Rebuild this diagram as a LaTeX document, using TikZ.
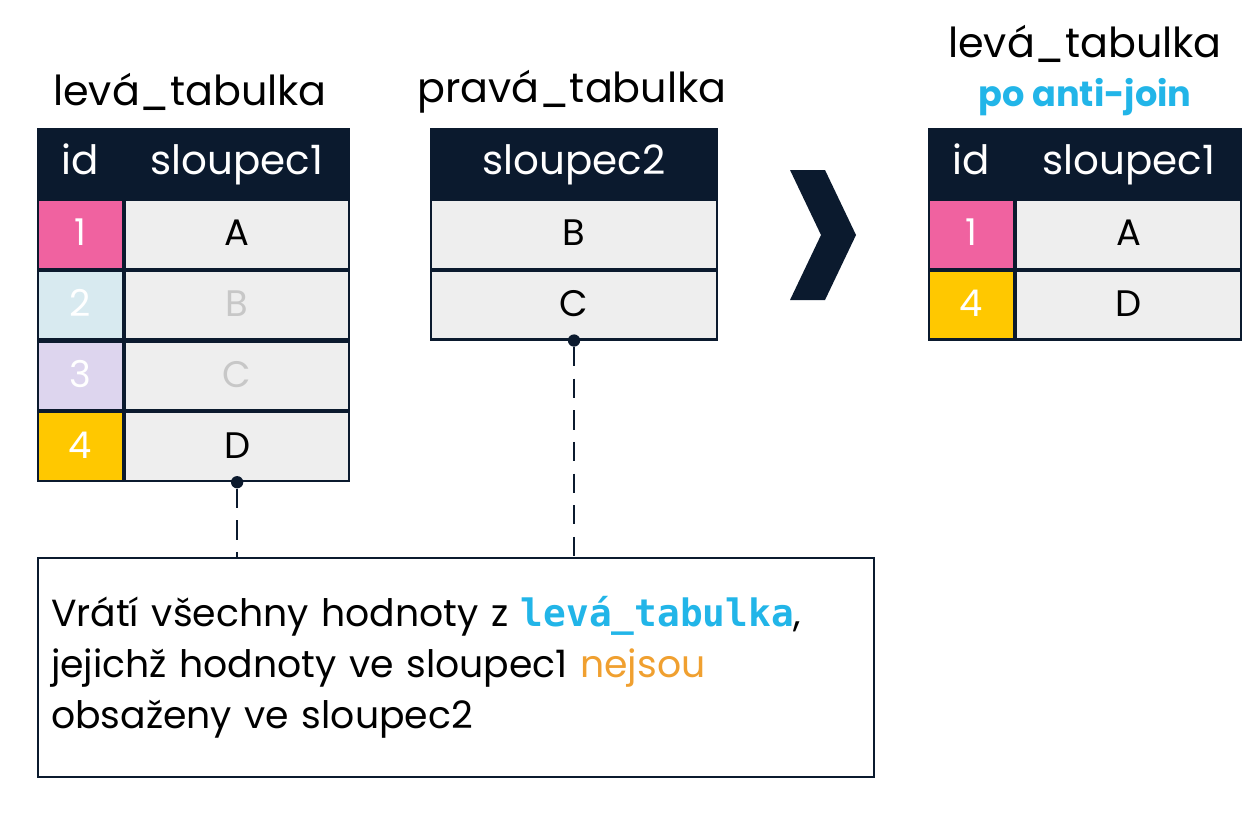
\documentclass[tikz,border=0pt]{standalone}
\usepackage{fontspec}
\setmainfont{Poppins}
\newfontfamily\monofont{DejaVu Sans Mono}
\usetikzlibrary{positioning}
\definecolor{navy}{HTML}{0B1A2E}
\definecolor{cellgray}{HTML}{EEEEEE}
\definecolor{pinkid}{HTML}{F062A0}
\definecolor{blueid}{HTML}{D8EAF0}
\definecolor{lilacid}{HTML}{DDD5EE}
\definecolor{yellowid}{HTML}{FFC800}
\definecolor{cyantxt}{HTML}{22B5E8}
\definecolor{orangetxt}{HTML}{F0A030}
\tikzset{
  cell/.style = {draw=navy, line width=1.2pt, fill=cellgray, minimum height=1.375cm, inner sep=0pt,
                 text height=0.5cm, text depth=0.05cm, font=\fontsize{21}{24}\selectfont, text=black},
  head/.style = {cell, fill=navy, text=white, font=\fontsize{23}{26}\selectfont},
  faded/.style = {text=black!22},
  title/.style = {font=\fontsize{23.5}{27}\selectfont},
  dot/.style = {circle, fill=navy, inner sep=0pt, minimum size=7pt}
}
\begin{document}
\begin{tikzpicture}[x=0.02cm,y=-0.02cm]
\useasboundingbox (0,0) rectangle (1256,832);

% left table
\node[head, minimum width=1.7cm, anchor=north west] (lid) at (37,128) {id};
\node[head, minimum width=4.48cm, right=0pt of lid] (lcol) {sloupec1};
\node[cell, fill=pinkid, text=white, minimum width=1.7cm, below=0pt of lid] (l1) {1};
\node[cell, minimum width=4.48cm, right=0pt of l1] (lA) {A};
\node[cell, fill=blueid, text=white, minimum width=1.7cm, below=0pt of l1] (l2) {2};
\node[cell, faded, minimum width=4.48cm, right=0pt of l2] (lB) {B};
\node[cell, fill=lilacid, text=white, minimum width=1.7cm, below=0pt of l2] (l3) {3};
\node[cell, faded, minimum width=4.48cm, right=0pt of l3] (lC) {C};
\node[cell, fill=yellowid, text=white, minimum width=1.7cm, below=0pt of l3] (l4) {4};
\node[cell, minimum width=4.48cm, right=0pt of l4] (lD) {D};
\node[title] (ltitle) at (190,92) {levá\_tabulka};

% right table
\node[head, minimum width=5.72cm, anchor=north west] (rcol) at (430,128) {sloupec2};
\node[cell, minimum width=5.72cm, below=0pt of rcol] (rB) {B};
\node[cell, minimum width=5.72cm, below=0pt of rB] (rC) {C};
\node[title] (rtitle) at (572,92) {pravá\_tabulka};

% arrow
\fill[navy] (790,170) -- (825,170) -- (856,235) -- (825,300) -- (790,300) -- (821,235) -- cycle;

% result table
\node[head, minimum width=1.7cm, anchor=north west] (oid) at (928,128) {id};
\node[head, minimum width=4.5cm, right=0pt of oid] (ocol) {sloupec1};
\node[cell, fill=pinkid, text=white, minimum width=1.7cm, below=0pt of oid] (o1) {1};
\node[cell, minimum width=4.5cm, right=0pt of o1] (oA) {A};
\node[cell, fill=yellowid, text=white, minimum width=1.7cm, below=0pt of o1] (o4) {4};
\node[cell, minimum width=4.5cm, right=0pt of o4] (oD) {D};
\node[title] (otitle) at (1085,44) {levá\_tabulka};
\node[font=\fontsize{20}{23}\selectfont\bfseries, text=cyantxt] (osub) at (1085,97) {po anti-join};

% note box
\node[draw=navy, line width=1.2pt, anchor=north west, minimum width=16.72cm, minimum height=4.38cm,
      text width=16.2cm, align=left, font=\fontsize{21.5}{29}\selectfont] (note) at (37,557)
  {Vrátí všechny hodnoty z {\monofont\bfseries\color{cyantxt}levá\_tabulka},\\
   jejichž hodnoty ve sloupec1 {\color{orangetxt}nejsou}\\
   obsaženy ve sloupec2};

\node[dot] (dl) at (lD.south) {};
\node[dot] (dr) at (rC.south) {};
\draw[navy, line width=1.4pt, dash pattern=on 11pt off 7pt] (dl) -- (dl |- note.north);
\draw[navy, line width=1.4pt, dash pattern=on 11pt off 7pt] (dr) -- (dr |- note.north);
\end{tikzpicture}
\end{document}
